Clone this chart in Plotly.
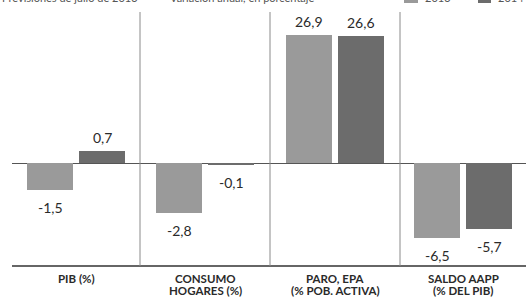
import plotly.graph_objects as go
from plotly.subplots import make_subplots

# ---- data ----
categories = [["PIB (%)"], ["CONSUMO", "HOGARES (%)"], ["PARO, EPA", "(% POB. ACTIVA)"], ["SALDO AAPP", "(% DEL PIB)"]]
years = ["2013", "2014"]
values_2013 = [-1.5, -2.8, 26.9, -6.5]
values_2014 = [0.7, -0.1, 26.6, -5.7]
labels_2013 = ["-1,5", "-2,8", "26,9", "-6,5"]
labels_2014 = ["0,7", "-0,1", "26,6", "-5,7"]

# ---- layout geometry (pixels) ----
W, H = 526, 297
ML, MR, MT, MB = 12, 0, 12, 31
PW, PH = W - ML - MR, H - MT - MB
zero_px = 163            # pixel row of the zero line
above = zero_px - MT
below = (H - MB) - zero_px
px_per_unit = [17.8, 17.8, 4.76, 11.6]
panel_edges_px = [12, 140, 270, 400, 526]
bar_pitch_px = 52
cat_line_px = [278.5, 290.5]

col_light = "#9a9a9a"
col_dark = "#6c6c6c"
txt = "#2a2a2a"
FONT = "Lato"

def px2paper_x(px):
    return (px - ML) / PW

def px2paper_y(py):
    return (H - MB - py) / PH

fig = make_subplots(rows=1, cols=4, horizontal_spacing=0)

for i in range(4):
    c = i + 1
    fig.add_trace(go.Bar(x=years, y=[values_2013[i], values_2014[i]],
                         marker=dict(color=[col_light, col_dark], line=dict(width=0)),
                         width=0.9, showlegend=False, hoverinfo="skip"), row=1, col=c)
    x0 = px2paper_x(panel_edges_px[i])
    x1 = px2paper_x(panel_edges_px[i + 1])
    span = (panel_edges_px[i + 1] - panel_edges_px[i]) / bar_pitch_px
    xa = "xaxis" if c == 1 else f"xaxis{c}"
    ya = "yaxis" if c == 1 else f"yaxis{c}"
    fig.layout[xa].update(type="category", domain=[x0, x1],
                          range=[0.5 - span / 2, 0.5 + span / 2],
                          showticklabels=False, showgrid=False, zeroline=False,
                          showline=False, ticks="", fixedrange=True)
    s = px_per_unit[i]
    fig.layout[ya].update(domain=[0, 1], range=[-below / s, above / s],
                          showticklabels=False, showgrid=False, zeroline=True,
                          zerolinecolor="#555555", zerolinewidth=1,
                          showline=False, ticks="", fixedrange=True)
    xr = "x" if c == 1 else f"x{c}"
    yr = "y" if c == 1 else f"y{c}"
    for k, (v, lab) in enumerate(zip([values_2013[i], values_2014[i]], [labels_2013[i], labels_2014[i]])):
        fig.add_annotation(x=k, y=v, xref=xr, yref=yr, text=lab, showarrow=False,
                           yanchor="bottom" if v >= 0 else "top",
                           yshift=3 if v >= 0 else -7,
                           font=dict(family=FONT, size=14, color=txt))
    for j, line in enumerate(categories[i]):
        fig.add_annotation(x=0.5, y=px2paper_y(cat_line_px[j]), xref=f"{xr} domain", yref="paper",
                           text=f"<b>{line}</b>", showarrow=False, yanchor="middle", borderpad=0,
                           font=dict(family=FONT, size=11.5, color=txt))

shapes = []
# bottom baseline
shapes.append(dict(type="line", xref="paper", yref="paper", x0=0, x1=1, y0=0, y1=0,
                   line=dict(color="#333333", width=1.5)))
# panel separators
for e in panel_edges_px[1:-1]:
    shapes.append(dict(type="line", xref="paper", yref="paper",
                       x0=px2paper_x(e), x1=px2paper_x(e), y0=0, y1=1,
                       line=dict(color="#8a8a8a", width=1)))
# legend swatches (cut off at top of image)
for (a, b), col in zip([(404, 418), (478, 491)], [col_light, col_dark]):
    shapes.append(dict(type="rect", xref="paper", yref="paper",
                       x0=px2paper_x(a), x1=px2paper_x(b),
                       y0=px2paper_y(3), y1=px2paper_y(-6),
                       fillcolor=col, line=dict(width=0)))

# header text, mostly cut off at the top edge
header = [("Previsiones de julio de 2013", 0, "left"),
          ("Variación anual, en porcentaje", 168, "left"),
          ("2013", 423, "left"),
          ("2014", 496, "left")]
for t, xp, al in header:
    fig.add_annotation(x=px2paper_x(xp), y=px2paper_y(-3), xref="paper", yref="paper",
                       text=t, showarrow=False, xanchor=al, yanchor="middle",
                       font=dict(family=FONT, size=11, color="#555555"))

fig.update_layout(width=W, height=H, margin=dict(l=ML, r=MR, t=MT, b=MB, pad=0),
                  paper_bgcolor="white", plot_bgcolor="white", shapes=shapes,
                  bargap=0, showlegend=False)

fig.write_html("out.html", config={"displayModeBar": False},
               post_script="document.body.style.margin='0';document.body.style.overflow='hidden';")
